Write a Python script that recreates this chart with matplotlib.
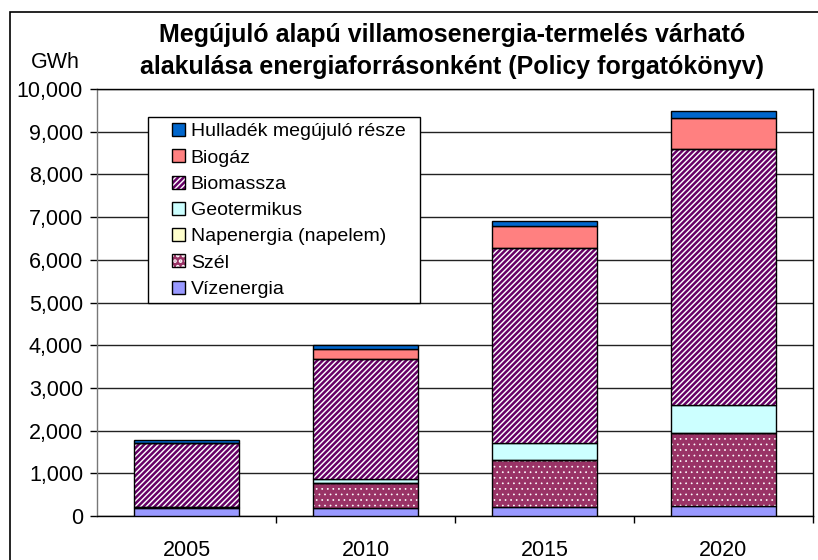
import matplotlib.pyplot as plt
from matplotlib.patches import Patch, Rectangle
from matplotlib.ticker import FuncFormatter

plt.rcParams['font.family'] = ['Liberation Sans', 'DejaVu Sans']
plt.rcParams['hatch.linewidth'] = 1.8

years = ['2005', '2010', '2015', '2020']
viz = [180, 180, 218, 241]
szel = [20, 586, 1093, 1696]
nap = [0, 2, 5, 10]
geo = [0, 106, 401, 653]
biomassza = [1506, 2796, 4559, 5995]
biogaz = [0, 241, 509, 733]
hulladek = [70, 94, 117, 150]

# name, values, face colour, hatch, hatch colour, hatch line width
series = [
    ('Vízenergia', viz, '#9999FF', None, None, 0),
    ('Szél', szel, '#993366', '...', 'white', 0.5),
    ('Napenergia (napelem)', nap, '#FFFFCC', None, None, 0),
    ('Geotermikus', geo, '#CCFFFF', None, None, 0),
    ('Biomassza', biomassza, 'white', '//////', '#660066', 1.8),
    ('Biogáz', biogaz, '#FF8080', None, None, 0),
    ('Hulladék megújuló része', hulladek, '#0066CC', None, None, 0),
]

fig = plt.figure(figsize=(8.18, 5.6), dpi=100)
ax = fig.add_axes([97 / 818, 44 / 560, 716 / 818, 427 / 560])

x = list(range(len(years)))
width = 0.59
bottom = [0] * len(years)
handles = []
for name, vals, fc, hatch, hc, hlw in series:
    if hatch:
        bars = ax.bar(x, vals, width, bottom=bottom, color=fc, hatch=hatch,
                      edgecolor=hc, linewidth=0, zorder=3)
        ax.bar(x, vals, width, bottom=bottom, fill=False,
               edgecolor='black', linewidth=1, zorder=4)
        hp = Patch(facecolor=fc, hatch=hatch, edgecolor=hc, linewidth=0)
        for p in list(bars) + [hp]:
            if hasattr(p, 'set_hatch_linewidth'):
                p.set_hatch_linewidth(hlw)
        h = (hp, Patch(fill=False, edgecolor='black', linewidth=1))
    else:
        ax.bar(x, vals, width, bottom=bottom, color=fc,
               edgecolor='black', linewidth=1, zorder=3)
        h = Patch(facecolor=fc, edgecolor='black', linewidth=1)
    handles.append((h, name))
    bottom = [b + v for b, v in zip(bottom, vals)]

ax.set_xlim(-0.5, 3.5)
ax.set_ylim(0, 10000)
ax.set_yticks(range(0, 10001, 1000))
ax.yaxis.set_major_formatter(FuncFormatter(lambda v, p: f'{int(v):,}'))
ax.yaxis.grid(True, color='#222222', linewidth=1, zorder=0)
ax.set_xticks(x)
ax.set_xticklabels(years)
ax.set_xticks([0.5, 1.5, 2.5, 3.5], minor=True)
ax.tick_params(axis='x', which='major', length=0, pad=17, labelsize=15.5)
ax.tick_params(axis='x', which='minor', length=5, width=1)
ax.tick_params(axis='y', length=5, width=1, pad=5, labelsize=15.5)
for s in ax.spines.values():
    s.set_linewidth(1)
ax.spines['left'].set_color('#777777')

# legend box drawn separately so the entries can sit further right
ax.add_patch(Rectangle((0.0712, 0.4988), 0.3799, 0.4356, transform=ax.transAxes,
                       facecolor='white', edgecolor='black', linewidth=1,
                       zorder=5))
hs = [h for h, n in reversed(handles)]
ns = [n for h, n in reversed(handles)]
leg = ax.legend(hs, ns, loc='upper left', bbox_to_anchor=(0.097, 0.934),
                borderaxespad=0, fontsize=14, frameon=False,
                handlelength=0.65, handleheight=0.65, handletextpad=0.3,
                labelspacing=0.46, borderpad=0.3)
leg.set_zorder(6)

fig.text(452 / 818, 1 - 42 / 560,
         'Megújuló alapú villamosenergia-termelés várható',
         ha='center', va='baseline', fontsize=18, fontweight='bold')
fig.text(452 / 818, 1 - 74 / 560,
         'alakulása energiaforrásonként (Policy forgatókönyv)',
         ha='center', va='baseline', fontsize=18, fontweight='bold')
fig.text(55 / 818, 1 - 62 / 560, 'GWh', ha='center', va='center', fontsize=15.5)

fig.patches.append(Rectangle((10 / 818, -0.1), 1.2, 1 - 12 / 560 + 0.1,
                             transform=fig.transFigure, fill=False,
                             edgecolor='black', linewidth=1.2))

fig.savefig('out.png', dpi=100)
